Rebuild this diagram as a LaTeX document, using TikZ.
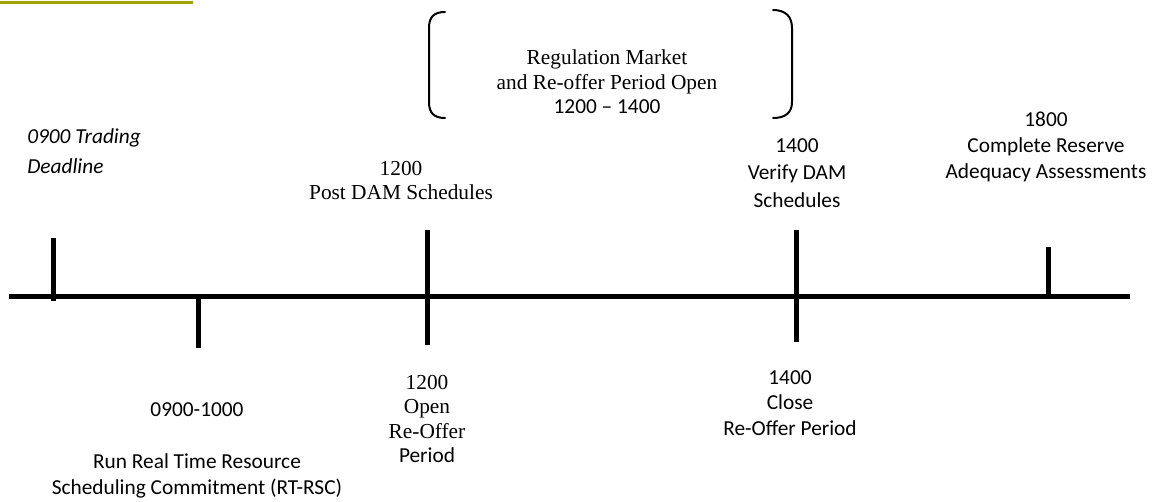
\documentclass[tikz,border=0pt]{standalone}
\usepackage{fontspec}
\setmainfont{Liberation Serif}
\newfontfamily\carl[Ligatures=TeX]{Carlito}
\definecolor{olivebar}{RGB}{163,163,0}
\begin{document}
\begin{tikzpicture}[x=0.75pt,y=-0.75pt,
  axis/.style={line width=3.75pt},
  tick/.style={line width=3.75pt},
  brk/.style={line width=1.5pt, line cap=round},
  lbl/.style={inner sep=0pt, align=center},
  serif16/.style={font=\fontsize{16}{18.3}\selectfont},
  sans16/.style={font=\carl\fontsize{16}{19.5}\selectfont}]
\useasboundingbox (0,0) rectangle (1153,502);
% top olive rule
\coordinate (ya) at (0,3);
\coordinate (yb) at (193,3);
\draw[olivebar, line width=2.25pt] (ya) -- (yb);
% axis
\coordinate (ax0) at (9,297);
\coordinate (ax1) at (1130,297);
\draw[axis] (ax0) -- (ax1);
% ticks
\coordinate (t1a) at (53,238); \coordinate (t1b) at (53,301);
\coordinate (t2a) at (198,299); \coordinate (t2b) at (198,348);
\coordinate (t3a) at (427,230); \coordinate (t3b) at (427,345);
\coordinate (t4a) at (796,230); \coordinate (t4b) at (796,342);
\coordinate (t5a) at (1048,247); \coordinate (t5b) at (1048,297);
\draw[tick] (t1a) -- (t1b);
\draw[tick] (t2a) -- (t2b);
\draw[tick] (t3a) -- (t3b);
\draw[tick] (t4a) -- (t4b);
\draw[tick] (t5a) -- (t5b);
% brackets
\draw[brk] (445,12) .. controls (434,12) and (429,17) .. (429,28) -- (429,102) .. controls (429,113) and (434,118) .. (445,118);
\draw[brk] (773,10) .. controls (785,10) and (792,16) .. (792,28) -- (792,102) .. controls (792,113) and (785,118) .. (773,118);
% labels
\node[lbl, anchor=west, font=\carl\itshape\fontsize{16}{22.5}\selectfont, align=left] (trade) at (27,151) {0900 Trading\\Deadline};
\node[lbl, font=\fontsize{16}{18}\selectfont] (post) at (401,181) {1200\\Post DAM Schedules};
\node[lbl, serif16] (reg) at (607,82) {Regulation Market\\and Re-offer Period Open\\{\carl 1200 – 1400}};
\node[lbl, font=\carl\fontsize{16}{20.6}\selectfont] (verify) at (797,173) {1400\\Verify DAM\\Schedules};
\node[lbl, sans16] (comp) at (1046,147) {1800\\Complete Reserve\\Adequacy Assessments};
\node[lbl, sans16] (rt) at (197,410) {0900-1000};
\node[lbl, sans16] (rtrsc) at (197,476) {Run Real Time Resource\\Scheduling Commitment (RT-RSC)};
\node[lbl, serif16] (open) at (427,419) {1200\\Open\\Re-Offer\\{\carl Period}};
\node[lbl, font=\carl\fontsize{16}{19}\selectfont] (close) at (790,403) {1400\\Close\\Re-Offer Period};
\end{tikzpicture}
\end{document}
